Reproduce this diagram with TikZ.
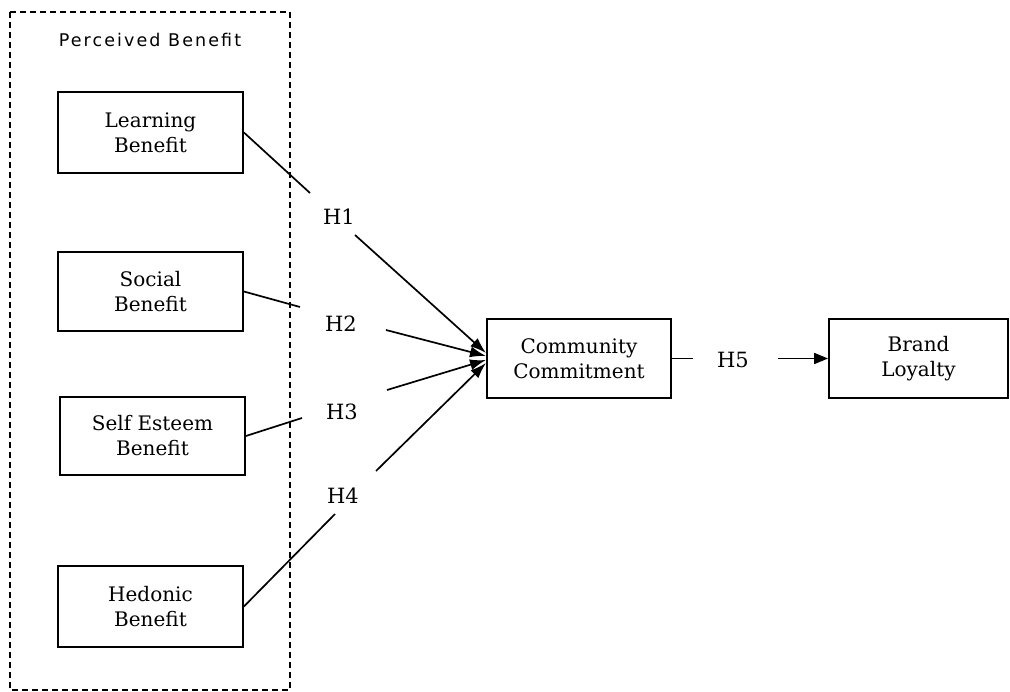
\documentclass[tikz,border=0pt]{standalone}
\usepackage{fontspec}
\setmainfont{DejaVu Serif}
\newfontfamily\pbfont[LetterSpace=12]{DejaVu Sans}
\usetikzlibrary{arrows.meta}
\begin{document}
\begin{tikzpicture}[x=1pt,y=-1pt,
  box/.style={draw,line width=1.8pt,align=center,inner sep=0pt,font=\fontsize{20}{25}\selectfont},
  hlab/.style={font=\fontsize{21}{22}\selectfont,inner sep=0pt},
  conn/.style={line width=1.7pt},
  tip/.style={conn,-{Latex[length=16pt,width=11pt]}}]
\useasboundingbox (0,0) rectangle (1010,692);
\draw[dash pattern=on 6pt off 4pt,line width=1.3pt] (10,12) rectangle (290,690);
\node[font=\pbfont\fontsize{17.5}{18}\selectfont] (pb) at (150,40) {Perceived Benefit};
% boxes
\node[box,minimum width=185pt,minimum height=81pt] (lb) at (150.5,132.5) {Learning\\Benefit};
\node[box,minimum width=185pt,minimum height=79pt] (sb) at (150.5,291.5) {Social\\Benefit};
\node[box,minimum width=185pt,minimum height=78pt] (se) at (152.5,436) {Self Esteem\\Benefit};
\node[box,minimum width=185pt,minimum height=81pt] (hb) at (150.5,606.5) {Hedonic\\Benefit};
\node[box,minimum width=184pt,minimum height=79pt] (cc) at (579,358.5) {Community\\Commitment};
\node[box,minimum width=179pt,minimum height=79pt] (bl) at (918.5,358.5) {Brand\\Loyalty};
% gap coordinates
\coordinate (g1a) at (310,193); \coordinate (g1b) at (355,235);
\coordinate (g2a) at (300,307); \coordinate (g2b) at (386,330);
\coordinate (g3a) at (302,418); \coordinate (g3b) at (387,390);
\coordinate (g4a) at (335,514); \coordinate (g4b) at (376,471);
\coordinate (g5a) at (693,358.5); \coordinate (g5b) at (778,358.5);
\coordinate (t1) at (486,353); \coordinate (t2) at (486,356);
\coordinate (t3) at (486,360); \coordinate (t4) at (486,363);
% labels
\node[hlab] (h1) at (339,217) {H1};
\node[hlab] (h2) at (341,324) {H2};
\node[hlab] (h3) at (342,412) {H3};
\node[hlab] (h4) at (343,496) {H4};
\node[hlab] (h5) at (733,360) {H5};
% connectors
\draw[conn] (lb.east) -- (g1a); \draw[tip] (g1b) -- (t1);
\draw[conn] (sb.east) -- (g2a); \draw[tip] (g2b) -- (t2);
\draw[conn] (se.east) -- (g3a); \draw[tip] (g3b) -- (t3);
\draw[conn] (hb.east) -- (g4a); \draw[tip] (g4b) -- (t4);
\draw[conn] (cc.east) -- (g5a);
\draw[conn,-{Triangle[length=14pt,width=11pt]}] (g5b) -- (bl.west);
\end{tikzpicture}
\end{document}
